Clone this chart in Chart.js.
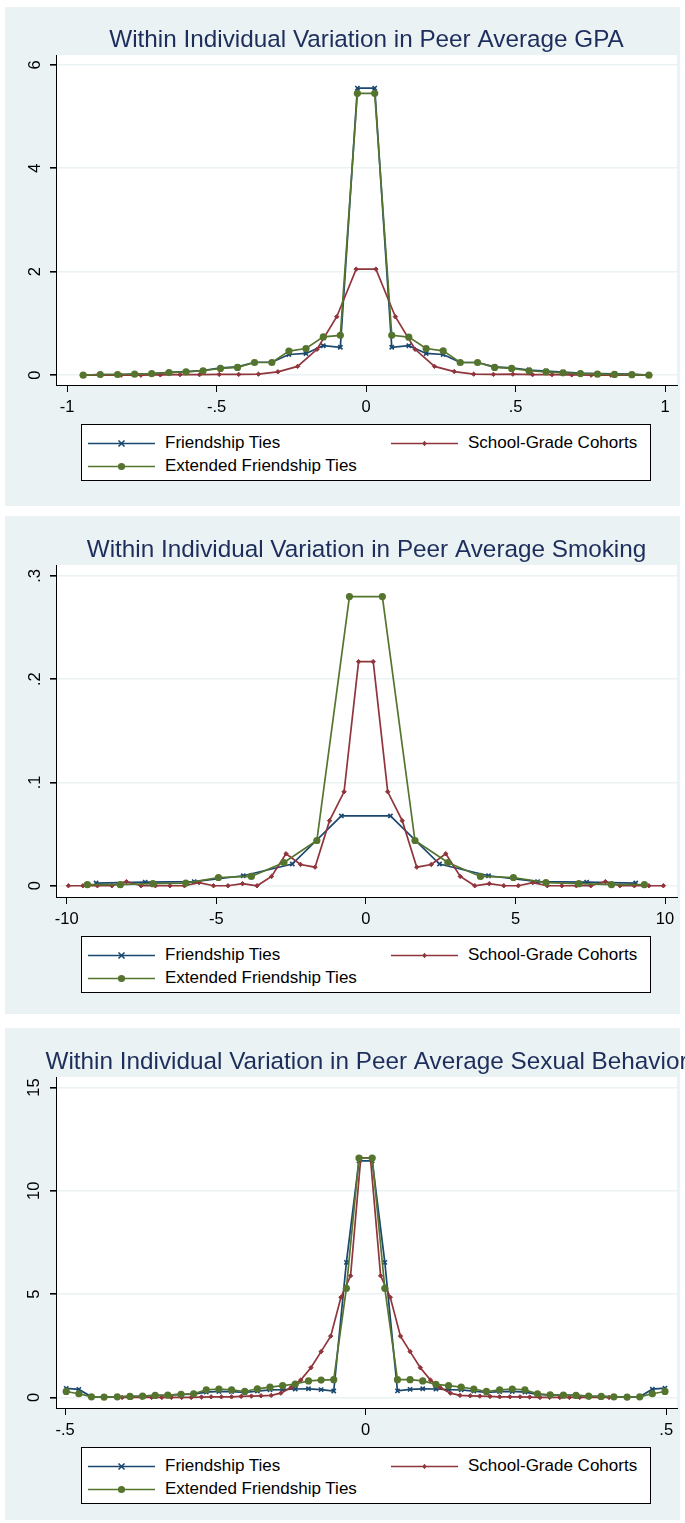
<!DOCTYPE html>
<html>
<head>
<meta charset="utf-8">
<script src="https://cdn.jsdelivr.net/npm/chart.js@4"></script>
<style>
body { margin: 0; background: #fff; width: 685px; height: 1523px; position: relative; overflow: hidden; font-family: "Liberation Sans", Arial, sans-serif; }
.panel { position: absolute; left: 0; width: 685px; }
.panel canvas { position: absolute; left: 0; top: 0; }
.legend { position: absolute; left: 81px; width: 570px; height: 57px; border: 1px solid #000; background: #fff; box-sizing: border-box; font-size: 17px; color: #000; }
.item { position: absolute; height: 20px; display: flex; align-items: center; white-space: nowrap; }
.item svg { margin-right: 10px; }
</style>
</head>
<body>
<div class="panel" id="p1" style="top:0px;height:510px"><canvas id="gpaChart" width="685" height="510"></canvas></div>
<div class="panel" id="p2" style="top:510px;height:510px"><canvas id="smokeChart" width="685" height="510"></canvas></div>
<div class="panel" id="p3" style="top:1020px;height:503px"><canvas id="sexChart" width="685" height="503"></canvas></div>
<script>
// series names
var seriesNames = ['Friendship Ties', 'School-Grade Cohorts', 'Extended Friendship Ties'];

// ---- GPA ----
var gpaX = [-0.946, -0.889, -0.831, -0.774, -0.717, -0.659, -0.602, -0.545, -0.487, -0.430, -0.373, -0.315, -0.258, -0.201, -0.143, -0.086, -0.029,
    0.029, 0.086, 0.143, 0.201, 0.258, 0.315, 0.373, 0.430, 0.487, 0.545, 0.602, 0.659, 0.717, 0.774, 0.831, 0.889, 0.946];
var gpaFriend = [0, 0.013, 0.013, 0.02, 0.03, 0.055, 0.07, 0.09, 0.14, 0.16, 0.25, 0.25, 0.40, 0.42, 0.57, 0.54, 5.55,
    5.55, 0.54, 0.57, 0.42, 0.40, 0.245, 0.245, 0.16, 0.14, 0.10, 0.08, 0.06, 0.04, 0.03, 0.025, 0.02, 0];
var gpaExtended = [0, 0.013, 0.013, 0.02, 0.03, 0.05, 0.065, 0.085, 0.13, 0.15, 0.245, 0.245, 0.465, 0.515, 0.74, 0.77, 5.45,
    5.45, 0.77, 0.735, 0.515, 0.47, 0.245, 0.245, 0.15, 0.13, 0.085, 0.065, 0.045, 0.03, 0.02, 0.015, 0.01, 0];
var gpaSchoolX = [-0.950, -0.884, -0.819, -0.753, -0.688, -0.622, -0.557, -0.491, -0.426, -0.360, -0.295, -0.229, -0.164, -0.098, -0.033,
    0.033, 0.098, 0.164, 0.229, 0.295, 0.360, 0.426, 0.491, 0.557, 0.622, 0.688, 0.753, 0.819, 0.884, 0.950];
var gpaSchool = [0, 0, 0, 0, 0.005, 0.01, 0.01, 0.015, 0.015, 0.02, 0.065, 0.17, 0.5, 1.13, 2.05,
    2.05, 1.13, 0.5, 0.17, 0.07, 0.02, 0.015, 0.02, 0.01, 0.01, 0.005, 0, 0, 0, 0];
var gpaXTicks = [-1, -0.5, 0, 0.5, 1];
var gpaXLabels = ['-1', '-.5', '0', '.5', '1'];
var gpaYTicks = [0, 2, 4, 6];
var gpaYLabels = ['0', '2', '4', '6'];

// ---- Smoking ----
var smokeFriendX = [-9.02, -7.38, -5.74, -4.10, -2.46, -0.82, 0.82, 2.46, 4.10, 5.74, 7.38, 9.02];
var smokeFriend = [0.0026, 0.0035, 0.004, 0.0097, 0.021, 0.0676, 0.0676, 0.021, 0.0097, 0.004, 0.0035, 0.0026];
var smokeSchoolX = [-9.945, -9.46, -8.975, -8.49, -8.005, -7.52, -7.035, -6.55, -6.065, -5.58, -5.095, -4.61, -4.125, -3.64, -3.155, -2.67, -2.185, -1.7, -1.215, -0.73, -0.245,
    0.245, 0.73, 1.215, 1.7, 2.185, 2.67, 3.155, 3.64, 4.125, 4.61, 5.095, 5.58, 6.065, 6.55, 7.035, 7.52, 8.005, 8.49, 8.975, 9.46, 9.945];
var smokeSchool = [0, 0, 0, 0, 0.004, 0, 0, 0, 0, 0.003, 0, 0, 0.002, 0, 0.009, 0.031, 0.0206, 0.018, 0.063, 0.091, 0.217,
    0.217, 0.091, 0.063, 0.018, 0.0206, 0.031, 0.009, 0, 0.002, 0, 0, 0.003, 0, 0, 0, 0, 0.004, 0, 0, 0, 0];
var smokeExtendedX = [-9.31, -8.21, -7.12, -6.02, -4.93, -3.83, -2.74, -1.64, -0.55, 0.55, 1.64, 2.74, 3.83, 4.93, 6.02, 7.12, 8.21, 9.31];
var smokeExtended = [0.001, 0.001, 0.002, 0.0026, 0.008, 0.009, 0.0225, 0.0438, 0.280, 0.280, 0.0438, 0.0225, 0.009, 0.008, 0.003, 0.002, 0.001, 0.001];
var smokeXTicks = [-10, -5, 0, 5, 10];
var smokeXLabels = ['-10', '-5', '0', '5', '10'];
var smokeYTicks = [0, 0.1, 0.2, 0.3];
var smokeYLabels = ['0', '.1', '.2', '.3'];

// ---- Sexual behavior ----
var sexX = [-0.498, -0.477, -0.456, -0.435, -0.413, -0.392, -0.371, -0.350, -0.329, -0.307, -0.286, -0.265, -0.244, -0.223, -0.201, -0.180, -0.159, -0.138, -0.117, -0.095, -0.074, -0.053, -0.032, -0.011,
    0.011, 0.032, 0.053, 0.074, 0.095, 0.117, 0.138, 0.159, 0.180, 0.201, 0.223, 0.244, 0.265, 0.286, 0.307, 0.329, 0.350, 0.371, 0.392, 0.413, 0.435, 0.456, 0.477, 0.498];
var sexFriend = [0.44, 0.39, 0.03, 0.02, 0.03, 0.05, 0.06, 0.10, 0.11, 0.15, 0.16, 0.26, 0.29, 0.28, 0.24, 0.31, 0.37, 0.38, 0.41, 0.42, 0.38, 0.31, 6.54, 11.45,
    11.45, 6.54, 0.32, 0.39, 0.42, 0.41, 0.38, 0.37, 0.31, 0.24, 0.28, 0.29, 0.26, 0.15, 0.11, 0.11, 0.10, 0.06, 0.05, 0.03, 0.02, 0.03, 0.40, 0.45];
var sexExtended = [0.29, 0.18, 0.03, 0.02, 0.03, 0.05, 0.06, 0.10, 0.11, 0.15, 0.18, 0.37, 0.41, 0.37, 0.29, 0.42, 0.50, 0.57, 0.65, 0.80, 0.84, 0.86, 5.28, 11.59,
    11.59, 5.28, 0.86, 0.86, 0.80, 0.63, 0.57, 0.50, 0.41, 0.29, 0.37, 0.41, 0.37, 0.18, 0.13, 0.11, 0.10, 0.06, 0.05, 0.03, 0.02, 0.03, 0.18, 0.29];
var sexSchoolX = [-0.405, -0.389, -0.372, -0.356, -0.339, -0.323, -0.306, -0.290, -0.273, -0.257, -0.240, -0.223, -0.207, -0.190, -0.174, -0.157, -0.141, -0.124, -0.108, -0.091, -0.074, -0.058, -0.041, -0.025, -0.008,
    0.008, 0.025, 0.041, 0.058, 0.074, 0.091, 0.108, 0.124, 0.141, 0.157, 0.174, 0.190, 0.207, 0.223, 0.240, 0.257, 0.273, 0.290, 0.306, 0.323, 0.339, 0.356, 0.372, 0.389, 0.405];
var sexSchool = [0, 0, 0, 0, 0, 0, 0, 0, 0.02, 0.03, 0.03, 0.03, 0.05, 0.065, 0.08, 0.10, 0.21, 0.48, 0.84, 1.44, 2.22, 2.97, 4.85, 5.89, 11.6,
    11.6, 5.89, 4.85, 2.97, 2.22, 1.44, 0.84, 0.48, 0.21, 0.10, 0.08, 0.065, 0.05, 0.03, 0.03, 0.03, 0.02, 0, 0, 0, 0, 0, 0, 0, 0];
var sexXTicks = [-0.5, 0, 0.5];
var sexXLabels = ['-.5', '0', '.5'];
var sexYTicks = [0, 5, 10, 15];
var sexYLabels = ['0', '5', '10', '15'];

var navy = '#1A476F';
var maroon = '#90353B';
var forest = '#55752F';
var regionColor = '#EAF2F3';
var fontFamily = '"Liberation Sans", Arial, sans-serif';

Chart.defaults.font.family = fontFamily;

function points(xs, ys) {
    return xs.map(function (x, i) { return { x: x, y: ys[i] }; });
}

var stataPlugin = {
    id: 'stata',
    beforeDraw: function (chart, args, opts) {
        var ctx = chart.ctx, a = chart.chartArea;
        ctx.save();
        ctx.fillStyle = '#fff';
        ctx.fillRect(0, 0, chart.width, chart.height);
        ctx.fillStyle = regionColor;
        ctx.fillRect(5, opts.bgTop, 675, opts.bgHeight);
        ctx.fillStyle = '#fff';
        ctx.fillRect(a.left, a.top, a.right - a.left, a.bottom - a.top);
        ctx.restore();
    },
    afterDraw: function (chart, args, opts) {
        var ctx = chart.ctx, a = chart.chartArea;
        ctx.save();
        ctx.font = '24.3px ' + fontFamily;
        ctx.fillStyle = '#1E2E5C';
        ctx.textAlign = 'center';
        ctx.textBaseline = 'alphabetic';
        ctx.fillText(opts.text, (a.left + a.right) / 2, a.top - 8.5);
        ctx.restore();
    }
};

function makeChart(canvasId, p) {
    var ctx = document.getElementById(canvasId).getContext('2d');
    var h = ctx.canvas.height;
    return new Chart(ctx, {
        type: 'line',
        data: {
            datasets: [{
                label: seriesNames[0],
                data: points(p.friendX, p.friend),
                borderColor: navy, backgroundColor: navy,
                borderWidth: 1.7, pointStyle: 'crossRot', pointRadius: 3, pointBorderWidth: 1.6,
                order: 3
            }, {
                label: seriesNames[1],
                data: points(p.schoolX, p.school),
                borderColor: maroon, backgroundColor: maroon,
                borderWidth: 1.7, pointStyle: 'rectRot', pointRadius: 2.2, pointBorderWidth: 1,
                order: 2
            }, {
                label: seriesNames[2],
                data: points(p.extX, p.ext),
                borderColor: forest, backgroundColor: forest,
                borderWidth: 1.7, pointStyle: 'circle', pointRadius: 3.6, pointBorderWidth: 0,
                order: 1
            }]
        },
        options: {
            responsive: false,
            animation: false,
            devicePixelRatio: 1,
            layout: { padding: { left: 0, right: 8, top: p.plotTop, bottom: h - p.plotBottom - 30 } },
            plugins: {
                legend: { display: false },
                title: { display: false },
                tooltip: { enabled: false },
                stata: { text: p.title, bgTop: p.bgTop, bgHeight: p.bgHeight }
            },
            scales: {
                x: {
                    type: 'linear', min: p.xMin, max: p.xMax,
                    afterBuildTicks: function (s) { s.ticks = p.xTicks.map(function (v) { return { value: v }; }); },
                    afterFit: function (s) { s.height = 30; s.paddingLeft = 0; s.paddingRight = 0; },
                    ticks: {
                        autoSkip: false, maxRotation: 0, padding: 6, color: '#000',
                        font: { size: 16.5 },
                        callback: function (v) { return p.xLabels[p.xTicks.indexOf(v)]; }
                    },
                    grid: { drawOnChartArea: false, tickColor: '#000', tickLength: 7 },
                    border: { color: '#000', width: 1 }
                },
                y: {
                    type: 'linear', min: p.yMin, max: p.yMax,
                    afterBuildTicks: function (s) { s.ticks = p.yTicks.map(function (v) { return { value: v }; }); },
                    afterFit: function (s) { s.width = 56; s.paddingTop = 0; s.paddingBottom = 0; },
                    ticks: {
                        minRotation: 90, maxRotation: 90, crossAlign: 'center', padding: p.yPad, color: '#000',
                        font: { size: 16.5 },
                        callback: function (v) { return p.yLabels[p.yTicks.indexOf(v)]; }
                    },
                    grid: { color: regionColor, lineWidth: 1.6, tickColor: '#000', tickLength: 6 },
                    border: { color: '#000', width: 1 }
                }
            }
        },
        plugins: [stataPlugin]
    });
}

function addLegend(panelId, top) {
    var colors = [navy, maroon, forest];
    var marks = [
        '<line x1="30.5" y1="3.5" x2="36.5" y2="9.5" stroke="' + navy + '" stroke-width="1.6"/><line x1="36.5" y1="3.5" x2="30.5" y2="9.5" stroke="' + navy + '" stroke-width="1.6"/>',
        '<polygon points="33.5,3.8 35.7,6.5 33.5,9.2 31.3,6.5" fill="' + maroon + '"/>',
        '<circle cx="33.5" cy="6.5" r="3.6" fill="' + forest + '"/>'
    ];
    var pos = [[6, 8], [309, 8], [6, 31]];
    var box = document.createElement('div');
    box.className = 'legend';
    box.style.top = top + 'px';
    var html = '';
    for (var i = 0; i < 3; i++) {
        html += '<div class="item" style="left:' + pos[i][0] + 'px;top:' + pos[i][1] + 'px">' +
            '<svg width="67" height="13"><line x1="0" y1="6.5" x2="67" y2="6.5" stroke="' + colors[i] + '" stroke-width="1.7"/>' + marks[i] + '</svg>' +
            '<span>' + seriesNames[i] + '</span></div>';
    }
    box.innerHTML = html;
    document.getElementById(panelId).appendChild(box);
}

window.onload = function () {
    makeChart('gpaChart', {
        title: 'Within Individual Variation in Peer Average GPA',
        bgTop: 7, bgHeight: 499, plotTop: 55, plotBottom: 385, yPad: 10.4,
        xMin: -1.037, xMax: 1.040, yMin: -0.19, yMax: 6.19,
        xTicks: gpaXTicks, xLabels: gpaXLabels, yTicks: gpaYTicks, yLabels: gpaYLabels,
        friendX: gpaX, friend: gpaFriend, schoolX: gpaSchoolX, school: gpaSchool, extX: gpaX, ext: gpaExtended
    });
    makeChart('smokeChart', {
        title: 'Within Individual Variation in Peer Average Smoking',
        bgTop: 6, bgHeight: 498, plotTop: 55, plotBottom: 387, yPad: 8.1,
        xMin: -10.36, xMax: 10.40, yMin: -0.0109, yMax: 0.3106,
        xTicks: smokeXTicks, xLabels: smokeXLabels, yTicks: smokeYTicks, yLabels: smokeYLabels,
        friendX: smokeFriendX, friend: smokeFriend, schoolX: smokeSchoolX, school: smokeSchool, extX: smokeExtendedX, ext: smokeExtended
    });
    makeChart('sexChart', {
        title: 'Within Individual Variation in Peer Average Sexual Behavior',
        bgTop: 8, bgHeight: 492, plotTop: 57, plotBottom: 388, yPad: 5.9,
        xMin: -0.515, xMax: 0.518, yMin: -0.51, yMax: 15.51,
        xTicks: sexXTicks, xLabels: sexXLabels, yTicks: sexYTicks, yLabels: sexYLabels,
        friendX: sexX, friend: sexFriend, schoolX: sexSchoolX, school: sexSchool, extX: sexX, ext: sexExtended
    });
    addLegend('p1', 424);
    addLegend('p2', 426);
    addLegend('p3', 427);
};
</script>
</body>
</html>
